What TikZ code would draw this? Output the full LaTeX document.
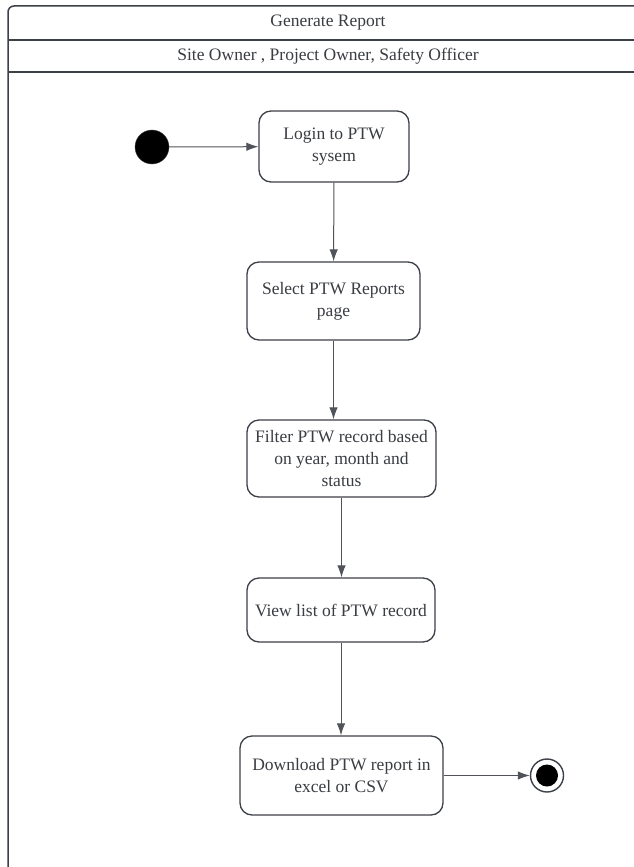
\documentclass[tikz,border=0pt]{standalone}
\usepackage{fontspec}
\setmainfont{Liberation Serif}
\usetikzlibrary{arrows.meta}
\definecolor{edgegray}{HTML}{3C4047}
\definecolor{textgray}{HTML}{3A3D42}

\begin{document}
\begin{tikzpicture}[x=1pt, y=1pt, every node/.style={font=\fontsize{17.5}{22}\selectfont, text=textgray}, >={Latex[length=12pt, width=8.5pt]},
	activity/.style={draw=edgegray, line width=1.3pt, rounded corners=12pt, align=center, fill=white},
	flow/.style={->, draw=edgegray!90, line width=1pt}]
	\useasboundingbox (0,0) rectangle (633,-867);
	\fill[white] (0,0) rectangle (633,-867);
	% frame with the two header rows
	\draw[edgegray, line width=1.5pt, rounded corners=6pt] (8,-870) -- (8,-6) -- (660,-6);
	\draw[edgegray, line width=1.5pt] (8,-40) -- (660,-40) (8,-72) -- (660,-72);
	\node (title) at (328,-23) {Generate Report};
	\node (actors) at (328,-56) {Site Owner , Project Owner, Safety Officer};
	% activities
	\node[circle, fill=black, draw=edgegray, minimum size=34pt, inner sep=0pt] (start) at (152,-147) {};
	\node[activity, minimum width=150pt, minimum height=71pt] (login) at (334,-146.5) {Login to PTW\\sysem};
	\node[activity, minimum width=173pt, minimum height=78pt] (select) at (333.5,-301) {Select PTW Reports\\page};
	\node[activity, minimum width=189pt, minimum height=77pt] (filter) at (341.5,-458.5) {Filter PTW record based\\on year, month and\\status};
	\node[activity, minimum width=188pt, minimum height=64pt] (view) at (341,-610) {View list of PTW record};
	\node[activity, minimum width=203pt, minimum height=79pt] (download) at (341.5,-775.5) {Download PTW report in\\excel or CSV};
	\node[circle, draw=edgegray, line width=1.4pt, minimum size=33pt, inner sep=0pt] (end) at (547,-775.5) {};
	\fill[black] (end) circle (11pt);
	% flows
	\draw[flow] (start) -- (login);
	\draw[flow] (login) -- (select);
	\draw[flow] (select.south) -- (select.south |- filter.north);
	\draw[flow] (filter.south) -- (filter.south |- view.north);
	\draw[flow] (view.south) -- (view.south |- download.north);
	\draw[flow] (download) -- (end);
\end{tikzpicture}
\end{document}
